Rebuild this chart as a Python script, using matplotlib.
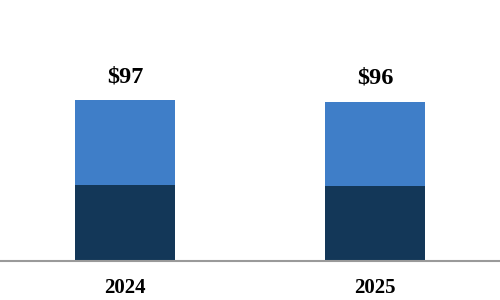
import matplotlib
matplotlib.use("Agg")
import matplotlib.pyplot as plt

years = ["2024", "2025"]
bottom_vals = [46, 45]
top_vals = [51, 51]
totals = [97, 96]
total_labels = ["$97", "$96"]

dark = "#133758"
blue = "#3F7EC8"

fig = plt.figure(figsize=(5, 3), dpi=100)
ax = fig.add_axes([0, 39/300, 1, 261/300])
x = list(range(len(years)))
ax.bar(x, bottom_vals, width=0.4, color=dark)
ax.bar(x, top_vals, width=0.4, bottom=bottom_vals, color=blue)
ax.set_xlim(-0.5, 1.5)
ax.set_ylim(0, 157.5)
for xi, t, lab in zip(x, totals, total_labels):
    ax.annotate(lab, (xi, t), xytext=(0, 17), textcoords="offset points",
                ha="center", va="center", fontsize=17.5, fontweight="bold",
                family="Liberation Serif")
ax.set_xticks(x)
ax.set_xticklabels(years, fontsize=15, fontweight="bold", family="Liberation Serif")
ax.tick_params(axis="x", length=0, pad=12)
ax.set_yticks([])
for s in ["top", "left", "right"]:
    ax.spines[s].set_visible(False)
ax.spines["bottom"].set_color("#9a9a9a")
ax.spines["bottom"].set_linewidth(1.5)
fig.savefig("out.png", dpi=100)
